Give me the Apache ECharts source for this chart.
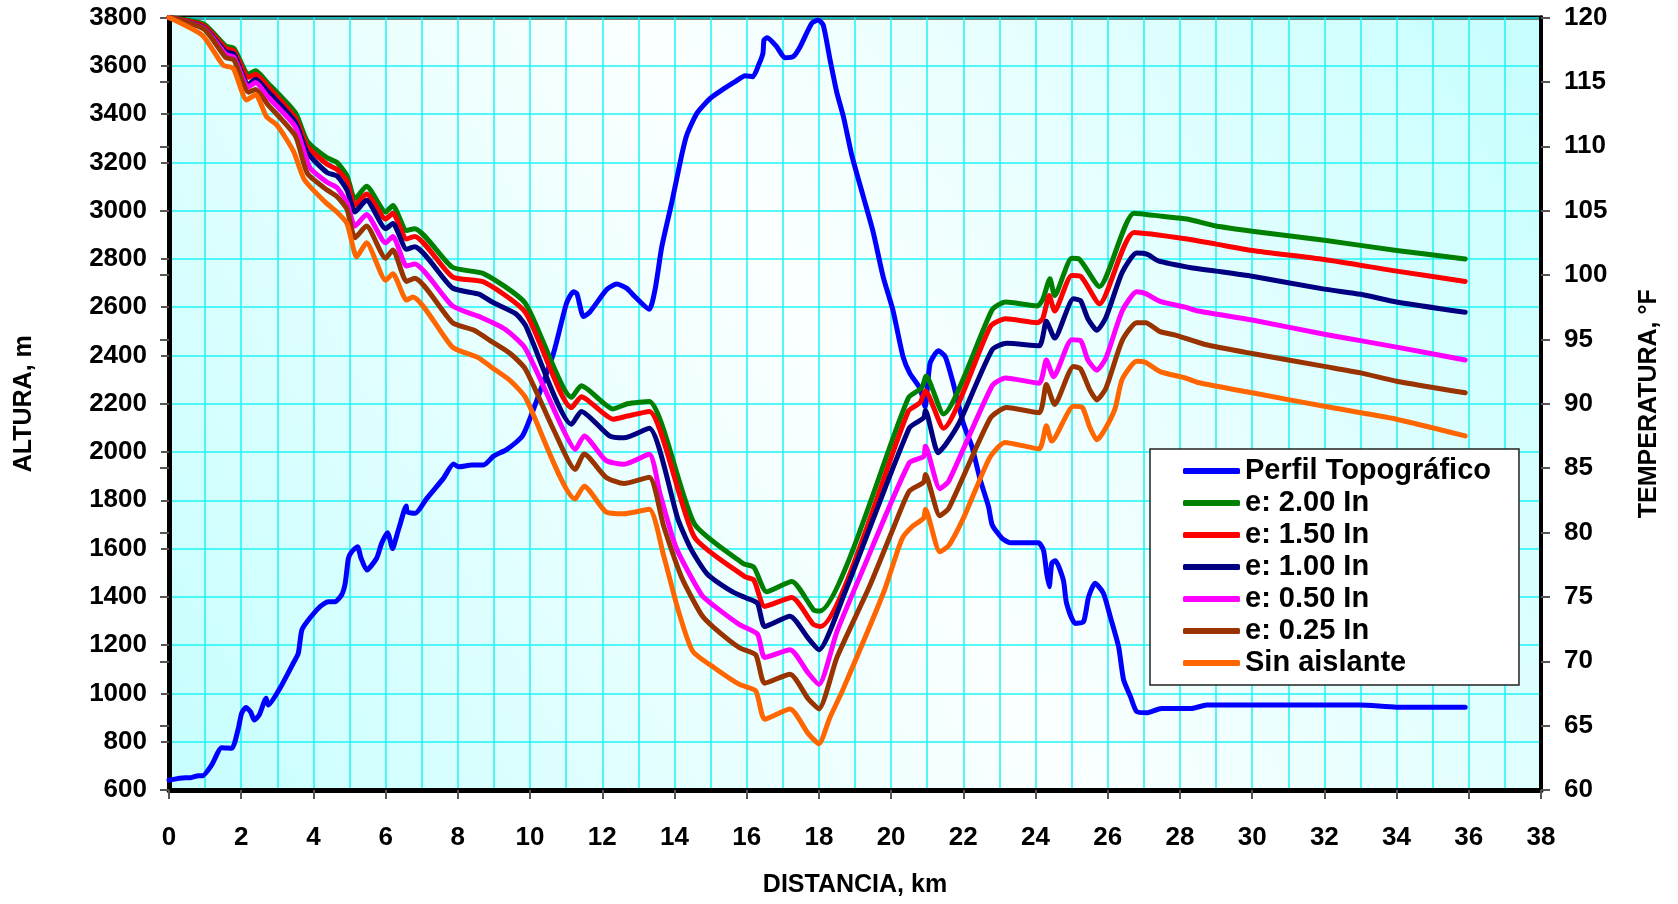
<!DOCTYPE html>
<html>
<head>
<meta charset="utf-8">
<title>Perfil topográfico y temperatura</title>
<script src="https://cdn.jsdelivr.net/npm/echarts@6/dist/echarts.min.js"></script>
<style>
  html, body { margin: 0; padding: 0; background: #ffffff; }
  #chart { width: 1678px; height: 904px; }
</style>
</head>
<body>
<div id="chart"></div>
<script>
// Distancia (km) vs altura (m) del perfil topográfico
const perfilTopografico = [
  [0, 641], [0.44, 651], [0.6, 651], [0.81, 659], [0.93, 659], [1.18, 703], [1.46, 775], [1.74, 773],
  [1.92, 855], [2.01, 917], [2.13, 942], [2.26, 924], [2.36, 890], [2.5, 911], [2.69, 980], [2.75, 952],
  [3.07, 1021], [3.44, 1125], [3.58, 1166], [3.68, 1263], [3.86, 1304], [4.18, 1359], [4.41, 1380],
  [4.6, 1380], [4.78, 1408], [4.88, 1456], [4.97, 1560], [5.06, 1587], [5.22, 1608], [5.32, 1560],
  [5.48, 1511], [5.75, 1560], [5.89, 1622], [6.05, 1666], [6.17, 1608], [6.2, 1600], [6.26, 1629],
  [6.38, 1690], [6.57, 1776], [6.6, 1752], [6.82, 1746], [7.14, 1808], [7.6, 1891], [7.88, 1950],
  [8.02, 1939], [8.39, 1946], [8.71, 1946], [8.99, 1983], [9.36, 2011], [9.77, 2063], [9.91, 2105],
  [10.14, 2195], [10.65, 2409], [11.01, 2616], [11.2, 2664], [11.3, 2655], [11.48, 2561], [11.66, 2581],
  [12.13, 2674], [12.4, 2696], [12.68, 2678], [12.86, 2650], [13.3, 2591], [13.46, 2671], [13.65, 2851],
  [13.92, 3030], [14.2, 3230], [14.34, 3313], [14.62, 3403], [14.99, 3465], [15.35, 3503], [15.68, 3534],
  [15.96, 3559], [16.17, 3555], [16.33, 3603], [16.45, 3652], [16.48, 3707], [16.57, 3716], [16.83, 3679],
  [17.06, 3633], [17.29, 3638], [17.48, 3679], [17.8, 3776], [17.98, 3790], [18.12, 3769], [18.31, 3624],
  [18.49, 3493], [18.68, 3389], [18.91, 3230], [19.23, 3058], [19.5, 2913], [19.78, 2726], [20.05, 2588],
  [20.33, 2395], [20.52, 2326], [20.8, 2264], [20.94, 2188], [21.08, 2368], [21.31, 2420], [21.5, 2395],
  [21.72, 2285], [22.0, 2119], [22.24, 2022], [22.47, 1884], [22.7, 1773], [22.8, 1698], [23.07, 1643],
  [23.3, 1624], [24.08, 1624], [24.22, 1594], [24.31, 1497], [24.38, 1442], [24.45, 1539], [24.55, 1550],
  [24.77, 1470], [24.86, 1373], [25.1, 1290], [25.33, 1297], [25.47, 1400], [25.65, 1456], [25.88, 1415],
  [26.07, 1318], [26.3, 1194], [26.44, 1056], [26.63, 987], [26.8, 925], [27.08, 920], [27.49, 938],
  [28.32, 938], [28.74, 952], [33.0, 952], [34.0, 943], [35.9, 943]
];

// Distancia (km) vs temperatura (°F) para cada espesor de aislante
const aislante200 = [
  [0, 120], [0.97, 119.48], [1.57, 117.8], [1.8, 117.6], [2.2, 115.6], [2.4, 115.86], [2.72, 114.96],
  [3.5, 112.6], [3.83, 110.4], [4.38, 109.1], [4.65, 108.75], [4.93, 107.7], [5.15, 105.9], [5.47, 106.9],
  [6.0, 104.9], [6.2, 105.4], [6.58, 103.45], [6.8, 103.6], [7.85, 100.6], [8.72, 100.1], [9.87, 97.8],
  [11.15, 90.5], [11.42, 91.4], [12.3, 89.6], [12.7, 90.0], [13.3, 90.18], [14.55, 80.68], [15.9, 77.6],
  [16.2, 77.3], [16.55, 75.4], [17.25, 76.2], [17.85, 74.0], [18.03, 73.9], [20.48, 90.47], [20.85, 91.24],
  [20.97, 92.15], [21.45, 89.2], [22.8, 97.3], [23.17, 97.9], [24.05, 97.6], [24.2, 98.1], [24.4, 99.7],
  [24.53, 98.4], [25.0, 101.3], [25.2, 101.25], [25.77, 99.1], [26.73, 104.8], [27.5, 104.56],
  [28.2, 104.35], [29.0, 103.8], [30.0, 103.4], [32.0, 102.7], [34.0, 101.9], [35.9, 101.25]
];
const aislante150 = [
  [0, 120], [0.97, 119.35], [1.57, 117.6], [1.8, 117.4], [2.2, 115.35], [2.4, 115.6], [2.72, 114.7],
  [3.5, 112.2], [3.83, 110.0], [4.38, 108.6], [4.65, 108.2], [4.93, 107.3], [5.15, 105.4], [5.47, 106.3],
  [6.0, 104.35], [6.2, 104.8], [6.58, 102.8], [6.8, 103.0], [7.85, 99.85], [8.72, 99.45], [9.87, 97.1],
  [11.15, 89.7], [11.42, 90.55], [12.3, 88.8], [12.7, 89.05], [13.3, 89.4], [14.55, 79.65], [15.95, 76.57],
  [16.2, 76.3], [16.5, 74.26], [17.25, 74.95], [17.85, 72.85], [18.05, 72.7], [20.48, 89.43], [20.8, 90.08],
  [20.95, 91.0], [21.45, 88.1], [22.75, 96.0], [23.17, 96.6], [24.05, 96.3], [24.2, 96.6], [24.38, 98.4],
  [24.53, 97.2], [25.0, 99.96], [25.25, 99.9], [25.77, 97.76], [26.73, 103.3], [28.2, 102.8], [29.0, 102.4],
  [30.0, 101.9], [32.0, 101.2], [34.0, 100.3], [35.9, 99.5]
];
const aislante100 = [
  [0, 120], [0.97, 119.2], [1.57, 117.35], [1.8, 117.15], [2.2, 114.8], [2.4, 115.2], [2.72, 114.3],
  [3.5, 111.85], [3.83, 109.5], [4.38, 107.95], [4.65, 107.7], [4.93, 106.6], [5.15, 104.9], [5.47, 105.8],
  [6.0, 103.6], [6.2, 104.0], [6.58, 102.0], [6.8, 102.2], [7.85, 99.0], [8.6, 98.5], [8.95, 97.9],
  [9.6, 97.0], [9.87, 96.1], [11.15, 88.4], [11.42, 89.4], [12.2, 87.5], [12.6, 87.35], [13.3, 88.1],
  [14.1, 81.0], [14.45, 78.75], [14.9, 76.8], [15.6, 75.4], [16.0, 74.9], [16.3, 74.5], [16.5, 72.7],
  [17.2, 73.5], [17.7, 71.8], [18.0, 70.9], [18.7, 75.2], [20.5, 88.1], [20.9, 88.9], [20.95, 89.5],
  [21.3, 86.2], [21.5, 86.8], [21.9, 88.6], [22.8, 94.2], [23.2, 94.7], [24.1, 94.5], [24.3, 96.4],
  [24.53, 95.1], [25.05, 98.15], [25.25, 98.0], [25.45, 96.6], [25.7, 95.7], [25.95, 96.7], [26.4, 100.2],
  [26.8, 101.7], [27.1, 101.6], [27.4, 101.1], [28.35, 100.55], [29.0, 100.3], [30.0, 99.9], [32.0, 98.9],
  [33.0, 98.5], [34.0, 97.9], [35.9, 97.1]
];
const aislante050 = [
  [0, 120], [0.97, 119.15], [1.57, 117.15], [1.8, 116.9], [2.2, 114.6], [2.4, 114.95], [2.72, 113.9],
  [3.5, 111.5], [3.9, 108.35], [4.38, 107.2], [4.65, 106.8], [4.93, 105.6], [5.15, 103.8], [5.47, 104.7],
  [6.0, 102.5], [6.2, 103.0], [6.58, 100.7], [6.8, 100.85], [7.85, 97.6], [8.65, 96.7], [9.3, 95.8],
  [9.87, 94.3], [10.9, 88.1], [11.25, 86.45], [11.5, 87.5], [12.1, 85.6], [12.6, 85.3], [13.3, 86.07],
  [13.6, 83.0], [14.05, 78.8], [14.75, 75.16], [15.1, 74.3], [15.8, 72.85], [16.3, 72.1], [16.5, 70.3],
  [17.2, 70.9], [17.7, 69.1], [18.0, 68.2], [18.5, 72.3], [19.2, 77.0], [20.5, 85.4], [20.9, 85.9],
  [20.95, 86.7], [21.35, 83.4], [21.6, 84.0], [22.8, 91.4], [23.17, 92.0], [24.1, 91.6], [24.3, 93.4],
  [24.5, 92.1], [25.0, 94.97], [25.25, 94.9], [25.45, 93.4], [25.7, 92.6], [25.95, 93.55], [26.4, 97.2],
  [26.8, 98.7], [27.05, 98.55], [27.45, 97.95], [28.15, 97.5], [28.5, 97.2], [30.0, 96.5], [32.0, 95.4],
  [33.0, 94.9], [34.0, 94.4], [35.9, 93.4]
];
const aislante025 = [
  [0, 120], [0.97, 119.1], [1.57, 116.9], [1.8, 116.7], [2.2, 114.2], [2.4, 114.4], [2.72, 113.3],
  [3.5, 110.8], [3.83, 107.9], [4.38, 106.6], [4.65, 106.1], [4.93, 105.1], [5.15, 102.9], [5.47, 103.8],
  [6.0, 101.3], [6.2, 101.95], [6.58, 99.5], [6.8, 99.75], [7.85, 96.3], [8.45, 95.7], [8.95, 94.8],
  [9.45, 93.9], [9.87, 92.7], [10.65, 88.0], [11.25, 84.9], [11.5, 86.1], [12.1, 84.3], [12.6, 83.8],
  [13.3, 84.3], [13.7, 80.5], [14.2, 76.5], [14.75, 73.6], [15.1, 72.6], [15.8, 71.05], [16.25, 70.5],
  [16.5, 68.3], [17.2, 69.0], [17.7, 67.1], [18.0, 66.3], [18.5, 70.3], [19.4, 75.8], [20.1, 80.6],
  [20.5, 83.2], [20.9, 83.9], [20.95, 84.5], [21.35, 81.3], [21.6, 81.9], [22.75, 88.9], [23.2, 89.7],
  [24.1, 89.3], [24.3, 91.5], [24.53, 89.95], [25.05, 92.9], [25.25, 92.7], [25.5, 91.1], [25.7, 90.3],
  [25.95, 91.2], [26.4, 94.9], [26.8, 96.3], [27.05, 96.3], [27.45, 95.6], [27.85, 95.35], [28.7, 94.6],
  [30.0, 93.9], [32.0, 92.9], [33.0, 92.4], [34.0, 91.75], [35.9, 90.85]
];
const sinAislante = [
  [0, 120], [0.93, 118.6], [1.5, 116.3], [1.78, 116.05], [2.15, 113.6], [2.4, 114.0], [2.7, 112.3],
  [3.0, 111.6], [3.45, 109.6], [3.75, 107.4], [4.35, 105.6], [4.65, 104.9], [4.93, 104.0], [5.2, 101.4],
  [5.47, 102.5], [6.0, 99.6], [6.2, 100.1], [6.58, 98.05], [6.75, 98.3], [7.85, 94.4], [8.55, 93.6],
  [8.95, 92.8], [9.45, 91.8], [9.87, 90.5], [11.25, 82.6], [11.5, 83.6], [12.1, 81.6], [12.6, 81.45],
  [13.3, 81.8], [13.7, 78.2], [14.1, 74.0], [14.5, 70.8], [15.1, 69.5], [15.8, 68.2], [16.25, 67.7],
  [16.5, 65.5], [17.2, 66.3], [17.7, 64.4], [18.0, 63.6], [18.3, 65.6], [18.65, 67.7], [19.8, 75.4],
  [20.3, 79.5], [20.6, 80.5], [20.9, 81.1], [20.95, 81.8], [21.35, 78.5], [21.6, 79.0], [22.0, 81.1],
  [22.35, 83.4], [22.75, 85.9], [23.15, 87.0], [24.1, 86.5], [24.3, 88.3], [24.45, 87.1], [25.05, 89.8],
  [25.3, 89.7], [25.5, 88.2], [25.7, 87.2], [25.9, 87.9], [26.2, 89.6], [26.4, 91.9], [26.8, 93.3],
  [27.05, 93.2], [27.45, 92.5], [28.15, 92.0], [28.5, 91.65], [30.0, 90.85], [32.0, 89.8], [34.0, 88.8],
  [35.9, 87.5]
];

const seriesNames = ['Perfil Topográfico', 'e: 2.00 In', 'e: 1.50 In', 'e: 1.00 In', 'e: 0.50 In', 'e: 0.25 In', 'Sin aislante'];
const seriesColors = ['#0000ff', '#008000', '#ff0000', '#000080', '#ff00ff', '#993300', '#ff6600'];
const temperatureSeries = [aislante200, aislante150, aislante100, aislante050, aislante025, sinAislante];

const FONT = "'Liberation Sans', Arial, sans-serif";
const GRID_COLOR = '#1ef4f4';

function lineSeries(name, data, color, yAxisIndex) {
  return {
    name: name,
    type: 'line',
    data: data,
    yAxisIndex: yAxisIndex,
    symbol: 'none',
    showSymbol: false,
    smooth: 0.2,
    clip: false,
    lineStyle: { color: color, width: 5, cap: 'round', join: 'round' },
    itemStyle: { color: color },
    emphasis: { disabled: true },
    animation: false
  };
}

const series = [lineSeries(seriesNames[0], perfilTopografico, seriesColors[0], 0)];
temperatureSeries.forEach(function (d, i) {
  series.push(lineSeries(seriesNames[i + 1], d, seriesColors[i + 1], 1));
});

// plain integers, no thousands separator
const plain = function (v) { return String(v); };

const labelStyle = { color: '#000', fontFamily: FONT, fontWeight: 'bold', fontSize: 26 };
const nameStyle = { color: '#000', fontFamily: FONT, fontWeight: 'bold', fontSize: 25 };

const chart = echarts.init(document.getElementById('chart'), null, { renderer: 'canvas' });
chart.setOption({
  animation: false,
  backgroundColor: '#ffffff',
  grid: {
    left: 169, right: 137, top: 17.5, bottom: 114,
    containLabel: false,
    outerBoundsMode: 'none',
    show: true,
    borderColor: '#000',
    borderWidth: 4,
    backgroundColor: {
      type: 'linear', x: 0, y: 1, x2: 1, y2: 0,
      colorStops: [
        { offset: 0, color: '#c6fefe' },
        { offset: 0.5, color: '#fbffff' },
        { offset: 1, color: '#c6fefe' }
      ]
    }
  },
  legend: {
    orient: 'vertical',
    left: 1150, top: 449,
    data: seriesNames,
    icon: 'roundRect',
    itemWidth: 57, itemHeight: 6,
    itemGap: 0,
    padding: [6, 28, 6, 33],
    backgroundColor: '#ffffff',
    borderColor: '#222',
    borderWidth: 1.5,
    borderRadius: 0,
    selectedMode: false,
    textStyle: { color: '#000', fontFamily: FONT, fontWeight: 'bold', fontSize: 29, lineHeight: 32 }
  },
  xAxis: {
    type: 'value',
    min: 0, max: 38, interval: 2,
    name: 'DISTANCIA, km',
    nameLocation: 'middle',
    nameGap: 83,
    nameTextStyle: nameStyle,
    axisLine: { show: true, onZero: false, lineStyle: { color: '#000', width: 5 } },
    axisTick: { show: true, inside: false, length: 9, lineStyle: { color: '#555', width: 2 } },
    axisLabel: Object.assign({ margin: 35, showMinLabel: true, showMaxLabel: true, hideOverlap: false, formatter: plain }, labelStyle),
    splitLine: { show: true, lineStyle: { color: GRID_COLOR, width: 1.5 } },
    minorTick: { show: false, splitNumber: 2 },
    minorSplitLine: { show: true, lineStyle: { color: GRID_COLOR, width: 1.5 } }
  },
  yAxis: [
    {
      type: 'value',
      position: 'left',
      min: 600, max: 3800, interval: 200,
      name: 'ALTURA, m',
      nameLocation: 'middle',
      nameRotate: 90,
      nameGap: 132,
      nameTextStyle: nameStyle,
      axisLine: { show: true, onZero: false, lineStyle: { color: '#000', width: 5 } },
      axisTick: { show: true, inside: false, length: 8, lineStyle: { color: '#555', width: 2 } },
      axisLabel: Object.assign({ margin: 22, showMinLabel: true, showMaxLabel: true, hideOverlap: false, formatter: plain }, labelStyle),
      splitLine: { show: true, lineStyle: { color: GRID_COLOR, width: 1.5 } }
    },
    {
      type: 'value',
      position: 'right',
      min: 60, max: 120, interval: 5,
      name: 'TEMPERATURA, °F',
      nameLocation: 'middle',
      nameRotate: 90,
      nameGap: 96,
      nameTextStyle: nameStyle,
      axisLine: { show: true, onZero: false, lineStyle: { color: '#000', width: 4 } },
      axisTick: { show: true, inside: false, length: 9, lineStyle: { color: '#555', width: 2 } },
      axisLabel: Object.assign({ margin: 23, showMinLabel: true, showMaxLabel: true, hideOverlap: false, formatter: plain }, labelStyle),
      splitLine: { show: false }
    },
    {
      // inner half of the crossing ticks on the temperature axis
      type: 'value',
      position: 'right',
      min: 60, max: 120, interval: 5,
      axisLine: { show: false },
      axisTick: { show: true, inside: true, length: 9, lineStyle: { color: '#555', width: 2 } },
      axisLabel: { show: false },
      splitLine: { show: false }
    }
  ],
  series: series
});
</script>
</body>
</html>
